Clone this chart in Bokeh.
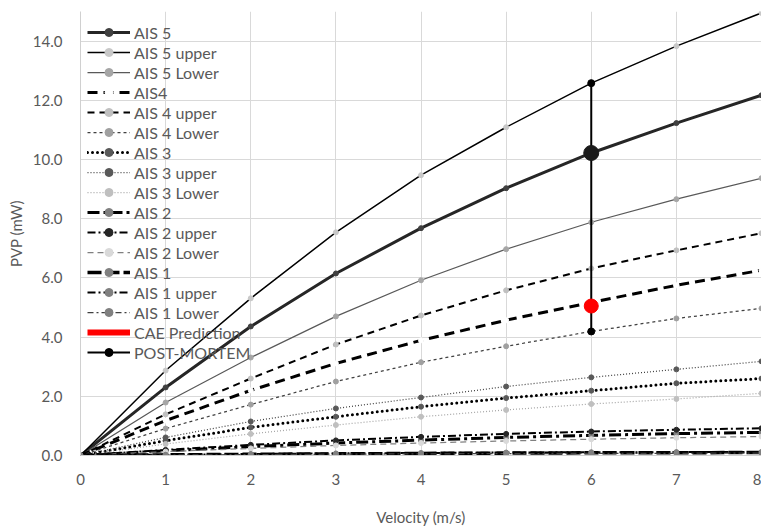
from bokeh.plotting import figure
from bokeh.models import Legend, LegendItem, Range1d, FixedTicker, NumeralTickFormatter
from bokeh.embed import file_html
from bokeh.resources import INLINE

velocity = [0, 1, 2, 3, 4, 5, 6, 7, 8]

ais5 = [0, 2.30, 4.36, 6.15, 7.68, 9.03, 10.22, 11.23, 12.17]
ais5_upper = [0, 2.87, 5.31, 7.54, 9.47, 11.09, 12.58, 13.83, 14.95]
ais5_lower = [0, 1.79, 3.31, 4.70, 5.92, 6.97, 7.88, 8.66, 9.37]
ais4 = [0, 1.18, 2.20, 3.11, 3.89, 4.57, 5.17, 5.75, 6.26]
ais4_upper = [0, 1.39, 2.60, 3.75, 4.73, 5.58, 6.32, 6.93, 7.51]
ais4_lower = [0, 0.91, 1.72, 2.50, 3.15, 3.69, 4.19, 4.63, 4.97]
ais3 = [0, 0.50, 0.95, 1.31, 1.65, 1.94, 2.19, 2.44, 2.60]
ais3_upper = [0, 0.61, 1.15, 1.59, 1.96, 2.33, 2.64, 2.91, 3.18]
ais3_lower = [0, 0.39, 0.73, 1.03, 1.31, 1.54, 1.74, 1.91, 2.10]
ais2 = [0, 0.16, 0.30, 0.42, 0.52, 0.61, 0.68, 0.74, 0.78]
ais2_upper = [0, 0.19, 0.36, 0.51, 0.63, 0.73, 0.81, 0.87, 0.92]
ais2_lower = [0, 0.13, 0.24, 0.34, 0.42, 0.49, 0.55, 0.60, 0.64]
ais1 = [0, 0.02, 0.04, 0.055, 0.07, 0.08, 0.09, 0.095, 0.10]
ais1_upper = [0, 0.025, 0.05, 0.07, 0.085, 0.10, 0.11, 0.115, 0.12]
ais1_lower = [0, 0.015, 0.03, 0.045, 0.055, 0.065, 0.07, 0.075, 0.08]

cae_x = [6]
cae_y = [5.05]
pm_x = [6, 6, 6]
pm_y = [4.19, 10.22, 12.58]

y_ticks = [0, 2, 4, 6, 8, 10, 12, 14]
x_ticks = [0, 1, 2, 3, 4, 5, 6, 7, 8]

FONT = "Lato"
TXT = "#595959"

p = figure(width=761, height=529, output_backend="svg", toolbar_location=None,
           x_range=Range1d(0, 8), y_range=Range1d(0, 15),
           min_border_left=80, min_border_right=0, min_border_top=11, min_border_bottom=74)
p.outline_line_color = None
p.background_fill_color = "white"

for ax in (p.xaxis[0], p.yaxis[0]):
    ax.major_tick_line_color = None
    ax.minor_tick_line_color = None
    ax.axis_line_color = "#d0d0d0"
    ax.major_label_text_font = FONT
    ax.major_label_text_font_size = "15px"
    ax.major_label_text_color = TXT
    ax.axis_label_text_font = FONT
    ax.axis_label_text_font_size = "15px"
    ax.axis_label_text_font_style = "normal"
    ax.axis_label_text_color = TXT

p.xaxis.ticker = FixedTicker(ticks=x_ticks)
p.yaxis.ticker = FixedTicker(ticks=y_ticks)
p.yaxis.formatter = NumeralTickFormatter(format="0.0")
p.xaxis.axis_label = "Velocity (m/s)"
p.yaxis.axis_label = "PVP (mW)"
p.xaxis.major_label_standoff = 12
p.yaxis.major_label_standoff = 12
p.xaxis.axis_label_standoff = 20
p.yaxis.axis_label_standoff = 5
p.grid.grid_line_color = "#d9d9d9"
p.grid.grid_line_width = 1

series = [
    ("AIS 5", ais5, "#262626", 3, "solid", "#404040"),
    ("AIS 5 upper", ais5_upper, "#000000", 1.5, "solid", "#c8c8c8"),
    ("AIS 5 Lower", ais5_lower, "#595959", 1.25, "solid", "#a6a6a6"),
    ("AIS4", ais4, "#000000", 3, "10 6", "#ffffff"),
    ("AIS 4 upper", ais4_upper, "#000000", 2, "7 5", "#c0c0c0"),
    ("AIS 4 Lower", ais4_lower, "#404040", 1.25, "3 3", "#a0a0a0"),
    ("AIS 3", ais3, "#000000", 3, "0 5", "#595959"),
    ("AIS 3 upper", ais3_upper, "#404040", 1.25, "1 2", "#595959"),
    ("AIS 3 Lower", ais3_lower, "#a6a6a6", 1.25, "1 2", "#bfbfbf"),
    ("AIS 2", ais2, "#000000", 3, "12 4 3 4", "#808080"),
    ("AIS 2 upper", ais2_upper, "#000000", 2, "8 3 2 3", "#262626"),
    ("AIS 2 Lower", ais2_lower, "#808080", 1.25, "6 4", "#d9d9d9"),
    ("AIS 1", ais1, "#000000", 3.5, "14 4", "#808080"),
    ("AIS 1 upper", ais1_upper, "#000000", 2, "8 3 2 3", "#808080"),
    ("AIS 1 Lower", ais1_lower, "#404040", 1.25, "6 3 2 3", "#808080"),
]

items = []
for name, ys, color, w, dash, mcolor in series:
    cap = "round" if dash == "0 5" else "butt"
    r = p.line(velocity, ys, line_color=color, line_width=w, line_dash=dash, line_cap=cap)
    m = p.scatter(velocity, ys, size=5, fill_color=mcolor, line_color=mcolor)
    items.append(LegendItem(label=name, renderers=[r, m]))

cae_line = p.line(cae_x, cae_y, line_color="red", line_width=6)
items.append(LegendItem(label="CAE Prediction", renderers=[cae_line]))

pm_line = p.line(pm_x, pm_y, line_color="black", line_width=2)
pm_dots = p.scatter(pm_x, pm_y, size=7, fill_color="black", line_color="black")
p.scatter([pm_x[1]], [pm_y[1]], size=15, fill_color="#1a1a1a", line_color="#1a1a1a")
items.append(LegendItem(label="POST-MORTEM", renderers=[pm_line, pm_dots]))

p.scatter(cae_x, cae_y, size=14, fill_color="red", line_color="red")

legend = Legend(items=items, location=(7, 93), margin=0, padding=5,
                spacing=0, glyph_width=43, glyph_height=20, label_height=20,
                label_standoff=4, background_fill_alpha=0, border_line_color=None,
                label_text_font=FONT, label_text_font_size="16px", label_text_color=TXT)
p.add_layout(legend)

open("out.html", "w").write(file_html(p, INLINE))
